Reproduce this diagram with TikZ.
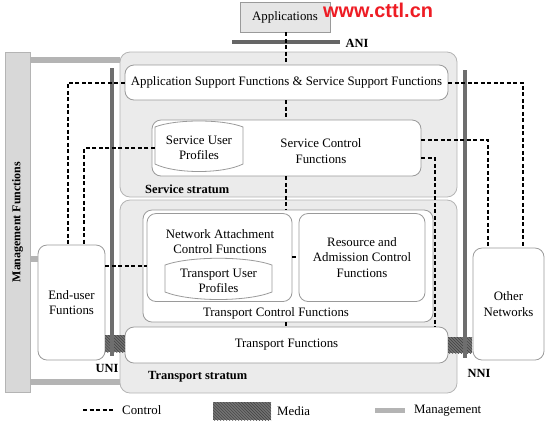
\documentclass[tikz,border=0pt]{standalone}
\usepackage{fontspec}
\setmainfont{Liberation Serif}
\newfontfamily\wmfont{Liberation Sans}
\usetikzlibrary{patterns,calc}
\definecolor{stratfill}{HTML}{EBEBEB}
\definecolor{stratline}{HTML}{B4B4B4}
\definecolor{boxline}{HTML}{9A9A9A}
\definecolor{ifacecol}{HTML}{6E6E6E}
\definecolor{mgmtcol}{HTML}{B4B4B4}
\definecolor{mgmtfill}{HTML}{D8D8D8}
\definecolor{appfill}{HTML}{E6E6E6}
\definecolor{wmred}{HTML}{EE1C24}
\tikzset{
  stratum/.style={draw=stratline, fill=stratfill, rounded corners=10bp, line width=0.8bp, inner sep=0pt},
  fbox/.style={draw=boxline, fill=white, rounded corners=9bp, line width=0.8bp, inner sep=0pt, align=center},
  cyl/.style={draw=boxline, fill=white, line width=0.8bp},
  txt/.style={align=center, inner sep=0pt},
  ctrl/.style={draw=black, line width=2bp, dash pattern=on 4bp off 2.5bp},
  iface/.style={draw=ifacecol, line width=3.5bp},
  mgmtline/.style={draw=mgmtcol, line width=6bp},
  mediablock/.style={fill=black!55, inner sep=0pt, postaction={pattern=north west lines, pattern color=black!75}},
  bold/.style={font=\fontsize{12.5}{15}\selectfont\bfseries, inner sep=0pt}
}
\begin{document}
\begin{tikzpicture}[x=1bp, y=-1bp, font=\fontsize{12.9}{15.5}\selectfont]
\useasboundingbox (0,0) rectangle (550,424);

% strata
\node[stratum, minimum width=337bp, minimum height=145bp] (ss) at (288.5,124.5) {};
\node[stratum, minimum width=337bp, minimum height=193bp] (ts) at (288.5,296.5) {};

% management functions bar
\node[draw=stratline, fill=mgmtfill, minimum width=340bp, minimum height=25bp, rotate=90, inner sep=0pt, font=\fontsize{12}{14}\selectfont\bfseries] (mgmt) at (17.5,222) {Management Functions};

% interfaces
\coordinate (aniL) at (232,42);
\coordinate (aniR) at (340,42);
\coordinate (uniT) at (112,68);
\coordinate (uniB) at (112,356);
\coordinate (nniT) at (465,70);
\coordinate (nniB) at (465,358);
\draw[iface, draw=black!60, line width=4bp] (aniL) -- (aniR);
\node[bold] (ani) at (357,43) {ANI};

% applications
\node[draw=boxline, fill=appfill, line width=0.8bp, minimum width=90bp, minimum height=30bp, inner sep=0pt] (apps) at (285,17) {Applications};

% service stratum contents
\node[fbox, minimum width=323bp, minimum height=35bp] (asf) at (286.5,82.5) {Application Support Functions \& Service Support Functions};
\node[fbox, minimum width=269bp, minimum height=56bp] (scf) at (286.5,148) {};
\node[txt] (scft) at (321,151) {Service Control\\Functions};
\draw[cyl] (155,127) .. controls (175,119) and (223,119) .. (243,127) -- (243,164) .. controls (223,174) and (175,174) .. (155,164) -- cycle;
\node[txt, minimum width=88bp, minimum height=44bp] (sup) at (199,148) {Service User\\Profiles};
\node[bold, anchor=west] (sst) at (145,189) {Service stratum};

% transport stratum contents
\node[fbox, minimum width=290bp, minimum height=112bp] (tcf) at (288,266) {};
\node[txt] (tcft) at (276,313) {Transport Control Functions};
\node[fbox, minimum width=145bp, minimum height=88bp] (nacf) at (219.5,257.5) {};
\node[txt] (nacft) at (220,241.5) {Network Attachment\\Control Functions};
\draw[cyl] (165,265) .. controls (190,256) and (247,256) .. (272,265) -- (272,292) .. controls (247,302) and (190,302) .. (165,292) -- cycle;
\node[txt, minimum width=107bp, minimum height=34bp] (tup) at (218.5,281) {Transport User\\Profiles};
\node[fbox, minimum width=126bp, minimum height=88bp] (racf) at (362,257.5) {Resource and\\Admission Control\\Functions};
\node[fbox, minimum width=323bp, minimum height=36bp] (tf) at (286.5,345) {Transport Functions};
\node[bold, anchor=west] (tst) at (148,377) {Transport stratum};

% outside boxes
\node[fbox, minimum width=67bp, minimum height=115bp] (eu) at (71.5,302.5) {End-user\\Funtions};
\node[fbox, minimum width=71bp, minimum height=112bp] (on) at (508.5,304) {Other\\Networks};

% media blocks and interface lines
\node[mediablock, minimum width=20bp, minimum height=17bp] (m1) at (115,343.5) {};
\node[mediablock, minimum width=24bp, minimum height=16bp] (m2) at (460,345) {};
\draw[iface] (uniT) -- (uniB);
\draw[iface] (nniT) -- (nniB);
\node[bold] (uni) at (107,368) {UNI};
\node[bold] (nni) at (479,373) {NNI};

% management lines
\coordinate (ym1) at (0,60);
\coordinate (ym2) at (0,382);
\coordinate (ym3) at (0,259);
\draw[mgmtline] (mgmt.south |- ym1) -- (ss.west |- ym1);
\draw[mgmtline] (mgmt.south |- ym2) -- (ts.west |- ym2);
\draw[mgmtline] (mgmt.south |- ym3) -- (eu.west |- ym3);

% control connectors
\coordinate (v1) at (286,0);
\coordinate (v2) at (68,0);
\coordinate (v3) at (84,0);
\coordinate (v4) at (523,0);
\coordinate (v5) at (488,0);
\coordinate (v6) at (435,0);
\coordinate (h1) at (0,140);
\coordinate (h2) at (0,158);
\coordinate (h3) at (0,266);
\coordinate (h6) at (0,257);
\draw[ctrl] (apps.south -| v1) -- (asf.north -| v1);
\draw[ctrl] (asf.south -| v1) -- (scf.north -| v1);
\draw[ctrl] (scf.south -| v1) -- (tcf.north -| v1);
\draw[ctrl] (tcf.south -| v1) -- (tf.north -| v1);
\draw[ctrl] (asf.west) -| (eu.north -| v2);
\draw[ctrl] (sup.west) -| (eu.north -| v3);
\draw[ctrl] (eu.east |- h3) -- (nacf.west |- h3);
\draw[ctrl] (asf.east) -| (on.north -| v4);
\draw[ctrl] (scf.east |- h1) -| (on.north -| v5);
\draw[ctrl] (scf.east |- h2) -| (tf.north -| v6);
\draw[ctrl] (nacf.east |- h6) -- (racf.west |- h6);

% legend
\coordinate (lc1) at (83,410);
\coordinate (lc2) at (115,410);
\draw[ctrl] (lc1) -- (lc2);
\node[anchor=west, inner sep=0pt] (lct) at (122,410) {Control};
\node[mediablock, minimum width=58bp, minimum height=18bp] (lm) at (242,411) {};
\node[anchor=west, inner sep=0pt] (lmt) at (277,411) {Media};
\node[fill=mgmtcol, minimum width=30bp, minimum height=5bp, inner sep=0pt] (lg) at (390,410.5) {};
\node[anchor=west, inner sep=0pt] (lgt) at (414,411) {Management};

% watermark
\node[text=wmred, inner sep=0pt, font=\wmfont\bfseries\fontsize{20}{20}\selectfont] (wm) at (378,10) {www.cttl.cn};
\end{tikzpicture}
\end{document}
